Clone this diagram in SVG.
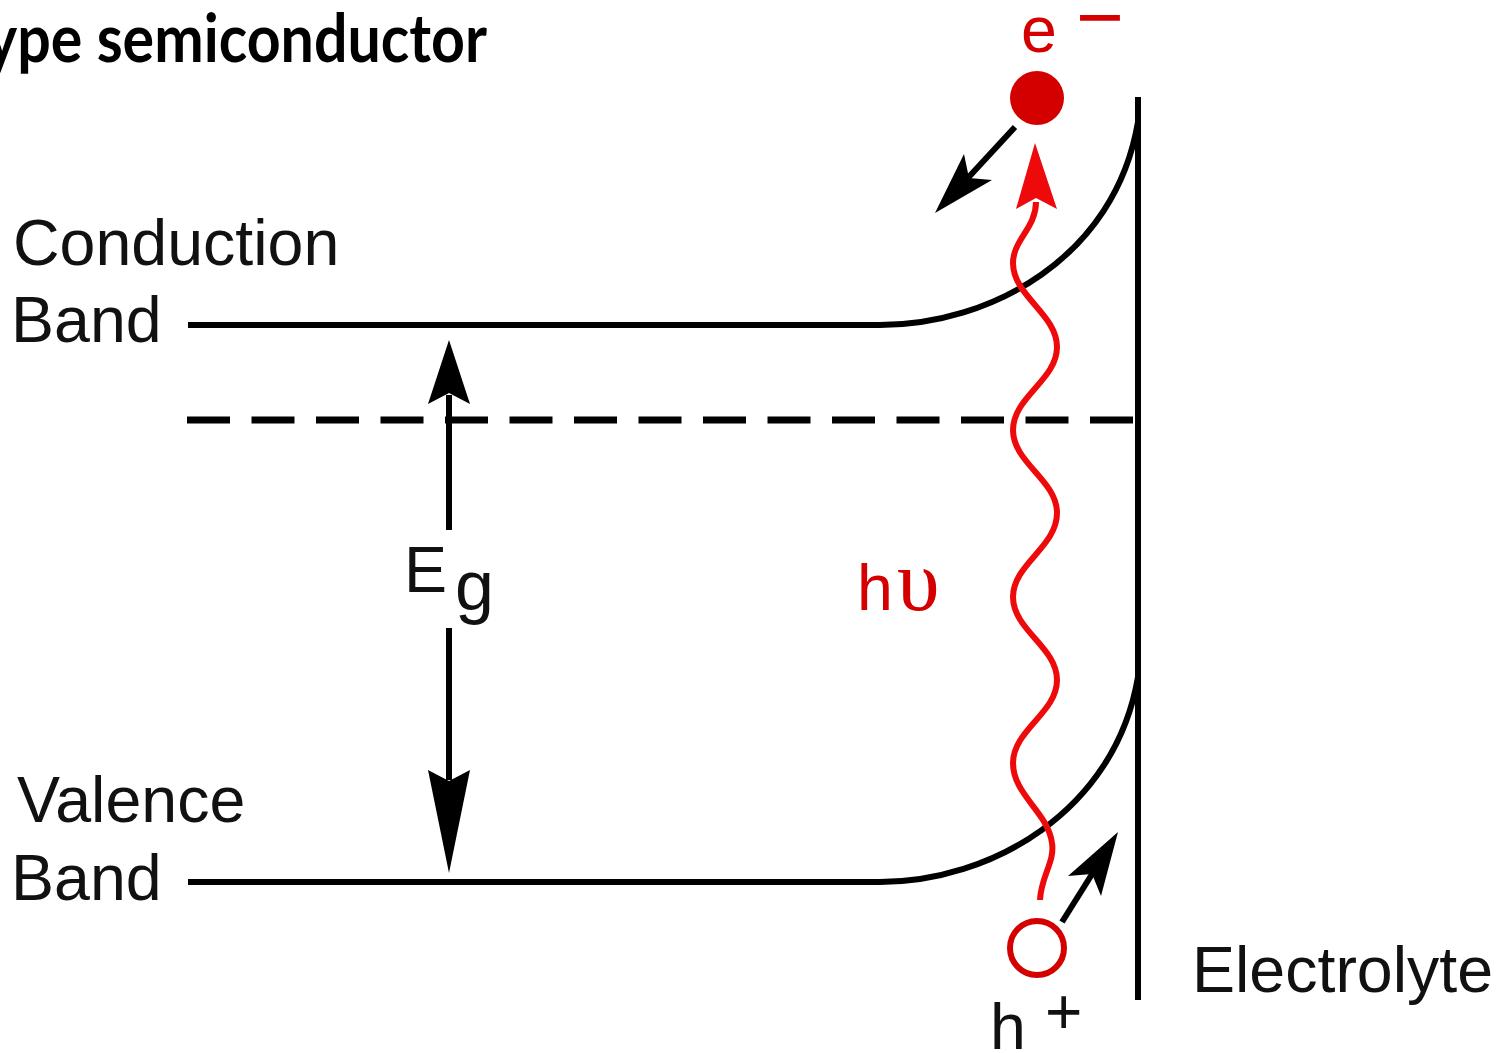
<svg xmlns="http://www.w3.org/2000/svg" width="1501" height="1053" viewBox="0 0 1501 1053">
<style>
.lbl{font-family:"Liberation Sans",Arial,sans-serif;font-size:64.5px;fill:#111}
.red{fill:#d40000}
.ln{fill:none;stroke:#000;stroke-width:6;stroke-linecap:butt}
.band{fill:none;stroke:#000;stroke-width:6}
.ah{fill:#000;stroke:none}
.title{font-family:Lato,"Open Sans","Liberation Sans",sans-serif;font-weight:bold;font-size:67px;fill:#000}
</style>
<rect width="1501" height="1053" fill="#fff"/>
<g id="title"><text class="title" x="-14" y="62" textLength="501" lengthAdjust="spacingAndGlyphs">ype semiconductor</text></g>
<g id="conduction-band">
<path class="band" d="M188,325 L880,325 C990,325 1115,258 1138,122"/>
<text class="lbl" x="13" y="265">Conduction</text>
<text class="lbl" x="11" y="342">Band</text>
</g>
<g id="valence-band">
<path class="band" d="M188,882 L880,882 C990,882 1115,812 1138,677"/>
<text class="lbl" x="17" y="822">Valence</text>
<text class="lbl" x="11" y="900">Band</text>
</g>
<g id="fermi-level">
<line x1="187" y1="420" x2="1138" y2="420" stroke="#000" stroke-width="7" stroke-dasharray="43 21.5"/>
</g>
<g id="interface">
<line class="ln" x1="1138" y1="97" x2="1138" y2="1000"/>
<text class="lbl" x="1192" y="992">Electrolyte</text>
</g>
<g id="band-gap">
<text class="lbl" x="404" y="592" font-size="68">E<tspan x="455" y="610" font-size="70">g</tspan></text>
</g>
<g id="electron">
<circle cx="1037" cy="98" r="27" fill="#d40000"/>
<text class="lbl red" x="1021" y="52" font-size="76">e<tspan x="1076" y="45" font-size="82">−</tspan></text>
</g>
<g id="hole">
<circle cx="1037" cy="948" r="27" fill="none" stroke="#d40000" stroke-width="6"/>
<text class="lbl" x="990" y="1049" font-size="74">h<tspan x="1045" y="1034" font-size="64">+</tspan></text>
</g>
<g id="photon">
<text class="lbl red" x="857" y="610" font-size="76">h<tspan dx="4" font-family="'Liberation Serif','DejaVu Serif',serif" font-size="86">υ</tspan></text>
</g>
<g id="connectors">
<line class="ln" x1="449" y1="395" x2="449" y2="530"/>
<polygon class="ah" points="449,340 470,404 449,393 428,404"/>
<line class="ln" x1="449" y1="628" x2="449" y2="780"/>
<polygon class="ah" points="449,873 470,770 449,781 428,770"/>
<path fill="none" stroke="#ee0a0a" stroke-width="6" d="M1040,900 C1041,876 1055,862 1052,843 C1048,812 1013,795 1013,763 C1013,730 1057,713 1057,680 C1057,647 1013,630 1013,597 C1013,564 1057,547 1057,513 C1057,480 1013,463 1013,430 C1013,397 1057,380 1057,347 C1057,314 1013,296 1013,263 C1013,240 1036,228 1036,202"/>
<polygon fill="#ee0a0a" points="1035,143 1057,209 1036,198 1016,209"/>
<line class="ln" x1="1015" y1="127" x2="966" y2="180"/>
<polygon class="ah" points="935,213 964,154 969,178 992,180"/>
<line class="ln" x1="1062" y1="922" x2="1094" y2="871"/>
<polygon class="ah" points="1118,832 1101,896 1092,874 1068,876"/>
</g>
</svg>
